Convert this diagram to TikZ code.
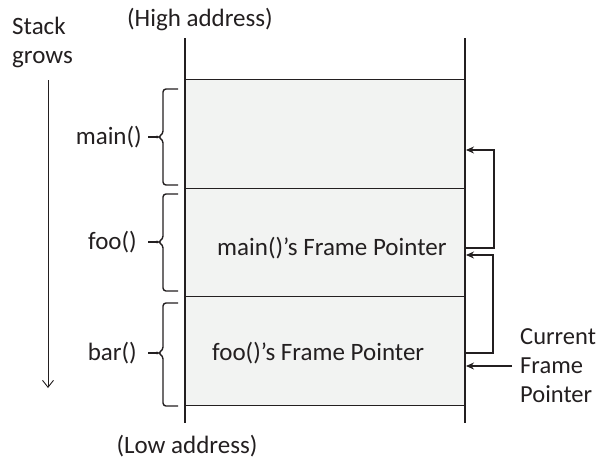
\documentclass[tikz,border=0pt]{standalone}
\usepackage{fontspec}
\setmainfont{Carlito}
\usetikzlibrary{arrows.meta}
\definecolor{cellfill}{HTML}{F2F3F2}
\definecolor{ink}{HTML}{231F20}
\begin{document}
\begin{tikzpicture}[x=1pt,y=-1pt,
  font=\fontsize{25}{29}\selectfont,
  every node/.style={text=ink,inner sep=0pt},
  cell/.style={draw=ink,line width=1.3pt,fill=cellfill,minimum width=280pt,minimum height=108.5pt},
  rail/.style={draw=ink,line width=1.6pt},
  bracket/.style={draw=ink,line width=1.4pt,rounded corners=3pt},
  link/.style={draw=ink,line width=1.1pt,-{Stealth[length=8pt,width=7pt]}},
  lbl/.style={anchor=east}
]
\useasboundingbox (0,0) rectangle (599,459);
% cells
\node[cell] (mainf) at (325,134) {};
\node[cell] (foof) at (325,242.5) {};
\node[cell] (barf) at (325,351) {};
% rails
\coordinate (lt) at (185,38);
\coordinate (lb) at (185,423);
\coordinate (rt) at (465,38);
\coordinate (rb) at (465,423);
\draw[rail] (lt) -- (lb);
\draw[rail] (rt) -- (rb);
% titles
\node (high) at (200,20) {(High address)};
\node (low) at (187,446) {(Low address)};
\node[anchor=west,align=left] (stack) at (12,42) {Stack\\grows};
% stack arrow
\coordinate (sg1) at (48,80);
\coordinate (sg2) at (48,388);
\draw[draw=ink,line width=0.9pt,-{Straight Barb[length=7pt,width=11pt]}] (sg1) -- (sg2);
% braces
\draw[bracket] (178,89) -- (163,89) -- (163,134) -- (158,137) -- (163,140) -- (163,185) -- (178,185);
\draw[bracket] (178,194) -- (163,194) -- (163,239) -- (158,242) -- (163,245) -- (163,291) -- (178,291);
\draw[bracket] (178,303) -- (163,303) -- (163,350) -- (158,353) -- (163,356) -- (163,406) -- (178,406);
\node[lbl] (lmain) at (142,137) {main()};
\node[lbl] (lfoo) at (137,242) {foo()};
\node[lbl] (lbar) at (137,353) {bar()};
\draw[draw=ink,line width=1.3pt] (lmain.east) ++(6,0) -- (158,137);
\draw[draw=ink,line width=1.3pt] (lfoo.east) ++(11,0) -- (158,242);
\draw[draw=ink,line width=1.3pt] (lbar.east) ++(11,0) -- (158,353);
% frame pointer texts
\node[anchor=west] (mfp) at (217,248) {main()'s Frame Pointer};
\node[anchor=west] (ffp) at (212,353) {foo()'s Frame Pointer};
% links
\coordinate (s1) at (465,248);
\coordinate (t1) at (466,150);
\coordinate (s2) at (465,353);
\coordinate (t2) at (466,255);
\draw[link] (s1) -- (494,248) |- (t1);
\draw[link] (s2) -- (493,353) |- (t2);
\node[anchor=west,align=left,font=\fontsize{24.5}{29}\selectfont] (cur) at (520,366) {Current\\Frame\\Pointer};
\coordinate (c0) at (512,366);
\coordinate (c1) at (466,366);
\draw[link] (c0) -- (c1);
\end{tikzpicture}
\end{document}
